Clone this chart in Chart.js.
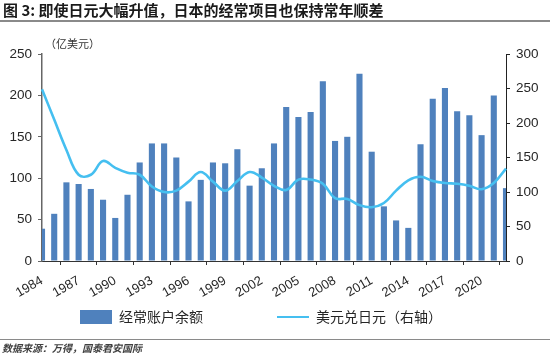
<!DOCTYPE html>
<html>
<head>
<meta charset="utf-8">
<script src="https://cdn.jsdelivr.net/npm/chart.js@4.4.1/dist/chart.umd.min.js"></script>
<style>
  html, body { margin: 0; padding: 0; background: #fff; }
  #wrap { position: relative; width: 550px; height: 355px; overflow: hidden; }
  canvas { position: absolute; left: 0; top: 0; }
  .txt { position: absolute; white-space: nowrap; font-family: "Noto Sans CJK SC", sans-serif; }
  #title { left: 3px; top: 1px; font-size: 15px; font-weight: bold; color: #1a1a1a; line-height: 18px; }
  #rule1 { position: absolute; left: 0; top: 20px; width: 550px; height: 0; border-top: 2px solid #8a8a8a; }
  #unit { left: 45px; top: 36px; font-size: 11px; color: #333; line-height: 14px; }
  #rule2 { position: absolute; left: 0; top: 339px; width: 550px; height: 0; border-top: 1px solid #8a8a8a; }
  #source { left: 2px; top: 342px; font-size: 10px; font-style: italic; font-weight: bold; color: #404040; line-height: 12px; }
</style>
</head>
<body>
<div id="wrap">
  <canvas id="c" width="550" height="355"></canvas>
  <div id="title" class="txt">图 3: 即使日元大幅升值，日本的经常项目也保持常年顺差</div>
  <div id="rule1"></div>
  <div id="unit" class="txt">（亿美元）</div>
  <div id="rule2"></div>
  <div id="source" class="txt">数据来源：万得，国泰君安国际</div>
</div>
<script>
// ---- data ----
const years = [1984,1985,1986,1987,1988,1989,1990,1991,1992,1993,1994,1995,1996,1997,1998,1999,2000,2001,2002,2003,2004,2005,2006,2007,2008,2009,2010,2011,2012,2013,2014,2015,2016,2017,2018,2019,2020,2021,2022];
const currentAccount = [39,57,95,93,87,74,52,80,119,142,142,125,72,98,119,118,135,91,112,142,186,174,180,217,145,150,226,132,66,49,40,141,196,209,181,176,152,200,88];
const usdJpy = [249,205,161,125,125,145,135,128,125,108,100,102,115,129,115,102,116,129,121,109,103,118,118,112,91,90,81,78,84,102,117,122,116,113,112,109,104,113,134];
const seriesNames = ['经常账户余额', '美元兑日元（右轴）'];
const leftTicks = [0,50,100,150,200,250];
const rightTicks = [0,50,100,150,200,250,300];

const barColor = '#4F81BD';
const lineColor = '#45BFF0';
const tickFont = { family: 'Liberation Sans, Arial, sans-serif', size: 13.5 };

new Chart(document.getElementById('c'), {
  type: 'bar',
  data: {
    labels: years.map(String),
    datasets: [
      {
        type: 'bar', label: seriesNames[0], data: currentAccount,
        backgroundColor: barColor, borderWidth: 0,
        barPercentage: 0.5, categoryPercentage: 1.0,
        yAxisID: 'y', order: 1
      },
      {
        type: 'line', label: seriesNames[1], data: usdJpy,
        borderColor: lineColor, backgroundColor: lineColor, borderWidth: 2.6,
        pointRadius: 0, tension: 0.4, fill: false,
        yAxisID: 'y1', order: 0
      }
    ]
  },
  options: {
    responsive: false,
    animation: false,
    devicePixelRatio: 1,
    layout: { padding: { top: 54, left: 0, right: 0, bottom: 21 } },
    plugins: {
      tooltip: { enabled: false },
      legend: {
        position: 'bottom',
        align: 'center',
        labels: {
          usePointStyle: true,
          pointStyleWidth: 32,
          boxHeight: 14,
          padding: 11,
          color: '#262626',
          font: { family: '"Noto Sans CJK SC", sans-serif', size: 14 },
          generateLabels: () => [
            { text: seriesNames[0] + '\u3000\u3000\u3000\u3000\u2002', fillStyle: barColor, strokeStyle: barColor, lineWidth: 0, pointStyle: 'rect', datasetIndex: 0, hidden: false, fontColor: '#262626' },
            { text: seriesNames[1] + '\u3000\u3000\u2002', fillStyle: lineColor, strokeStyle: lineColor, lineWidth: 2, pointStyle: 'line', datasetIndex: 1, hidden: false, fontColor: '#262626' }
          ]
        }
      }
    },
    scales: {
      x: {
        type: 'category',
        offset: false,
        afterFit: (s) => { s.height = 38; },
        border: { display: true, color: '#333', width: 1 },
        grid: { display: true, drawOnChartArea: false, drawTicks: true, tickLength: 4, tickColor: '#333' },
        ticks: {
          autoSkip: false, maxRotation: 30, minRotation: 30, padding: 8,
          color: '#262626', font: { family: 'Liberation Sans, Arial, sans-serif', size: 13 },
          callback: function (v, i) { return (years[i] - years[0]) % 3 === 0 ? String(years[i]) : null; }
        }
      },
      y: {
        position: 'left', min: 0, max: 250,
        afterFit: (s) => { s.width = 42; },
        afterBuildTicks: (s) => { s.ticks = leftTicks.map(v => ({ value: v })); },
        border: { display: true, color: '#666', width: 1.5 },
        grid: { display: true, drawOnChartArea: false, drawTicks: true, tickLength: 4, tickColor: '#666' },
        ticks: { padding: 6, color: '#262626', font: tickFont }
      },
      y1: {
        position: 'right', min: 0, max: 300,
        afterFit: (s) => { s.width = 44; },
        afterBuildTicks: (s) => { s.ticks = rightTicks.map(v => ({ value: v })); },
        border: { display: true, color: '#222', width: 1 },
        grid: { display: true, drawOnChartArea: false, drawTicks: true, tickLength: 4, tickColor: '#222' },
        ticks: { padding: 6, color: '#262626', font: tickFont }
      }
    }
  }
});
</script>
</body>
</html>
